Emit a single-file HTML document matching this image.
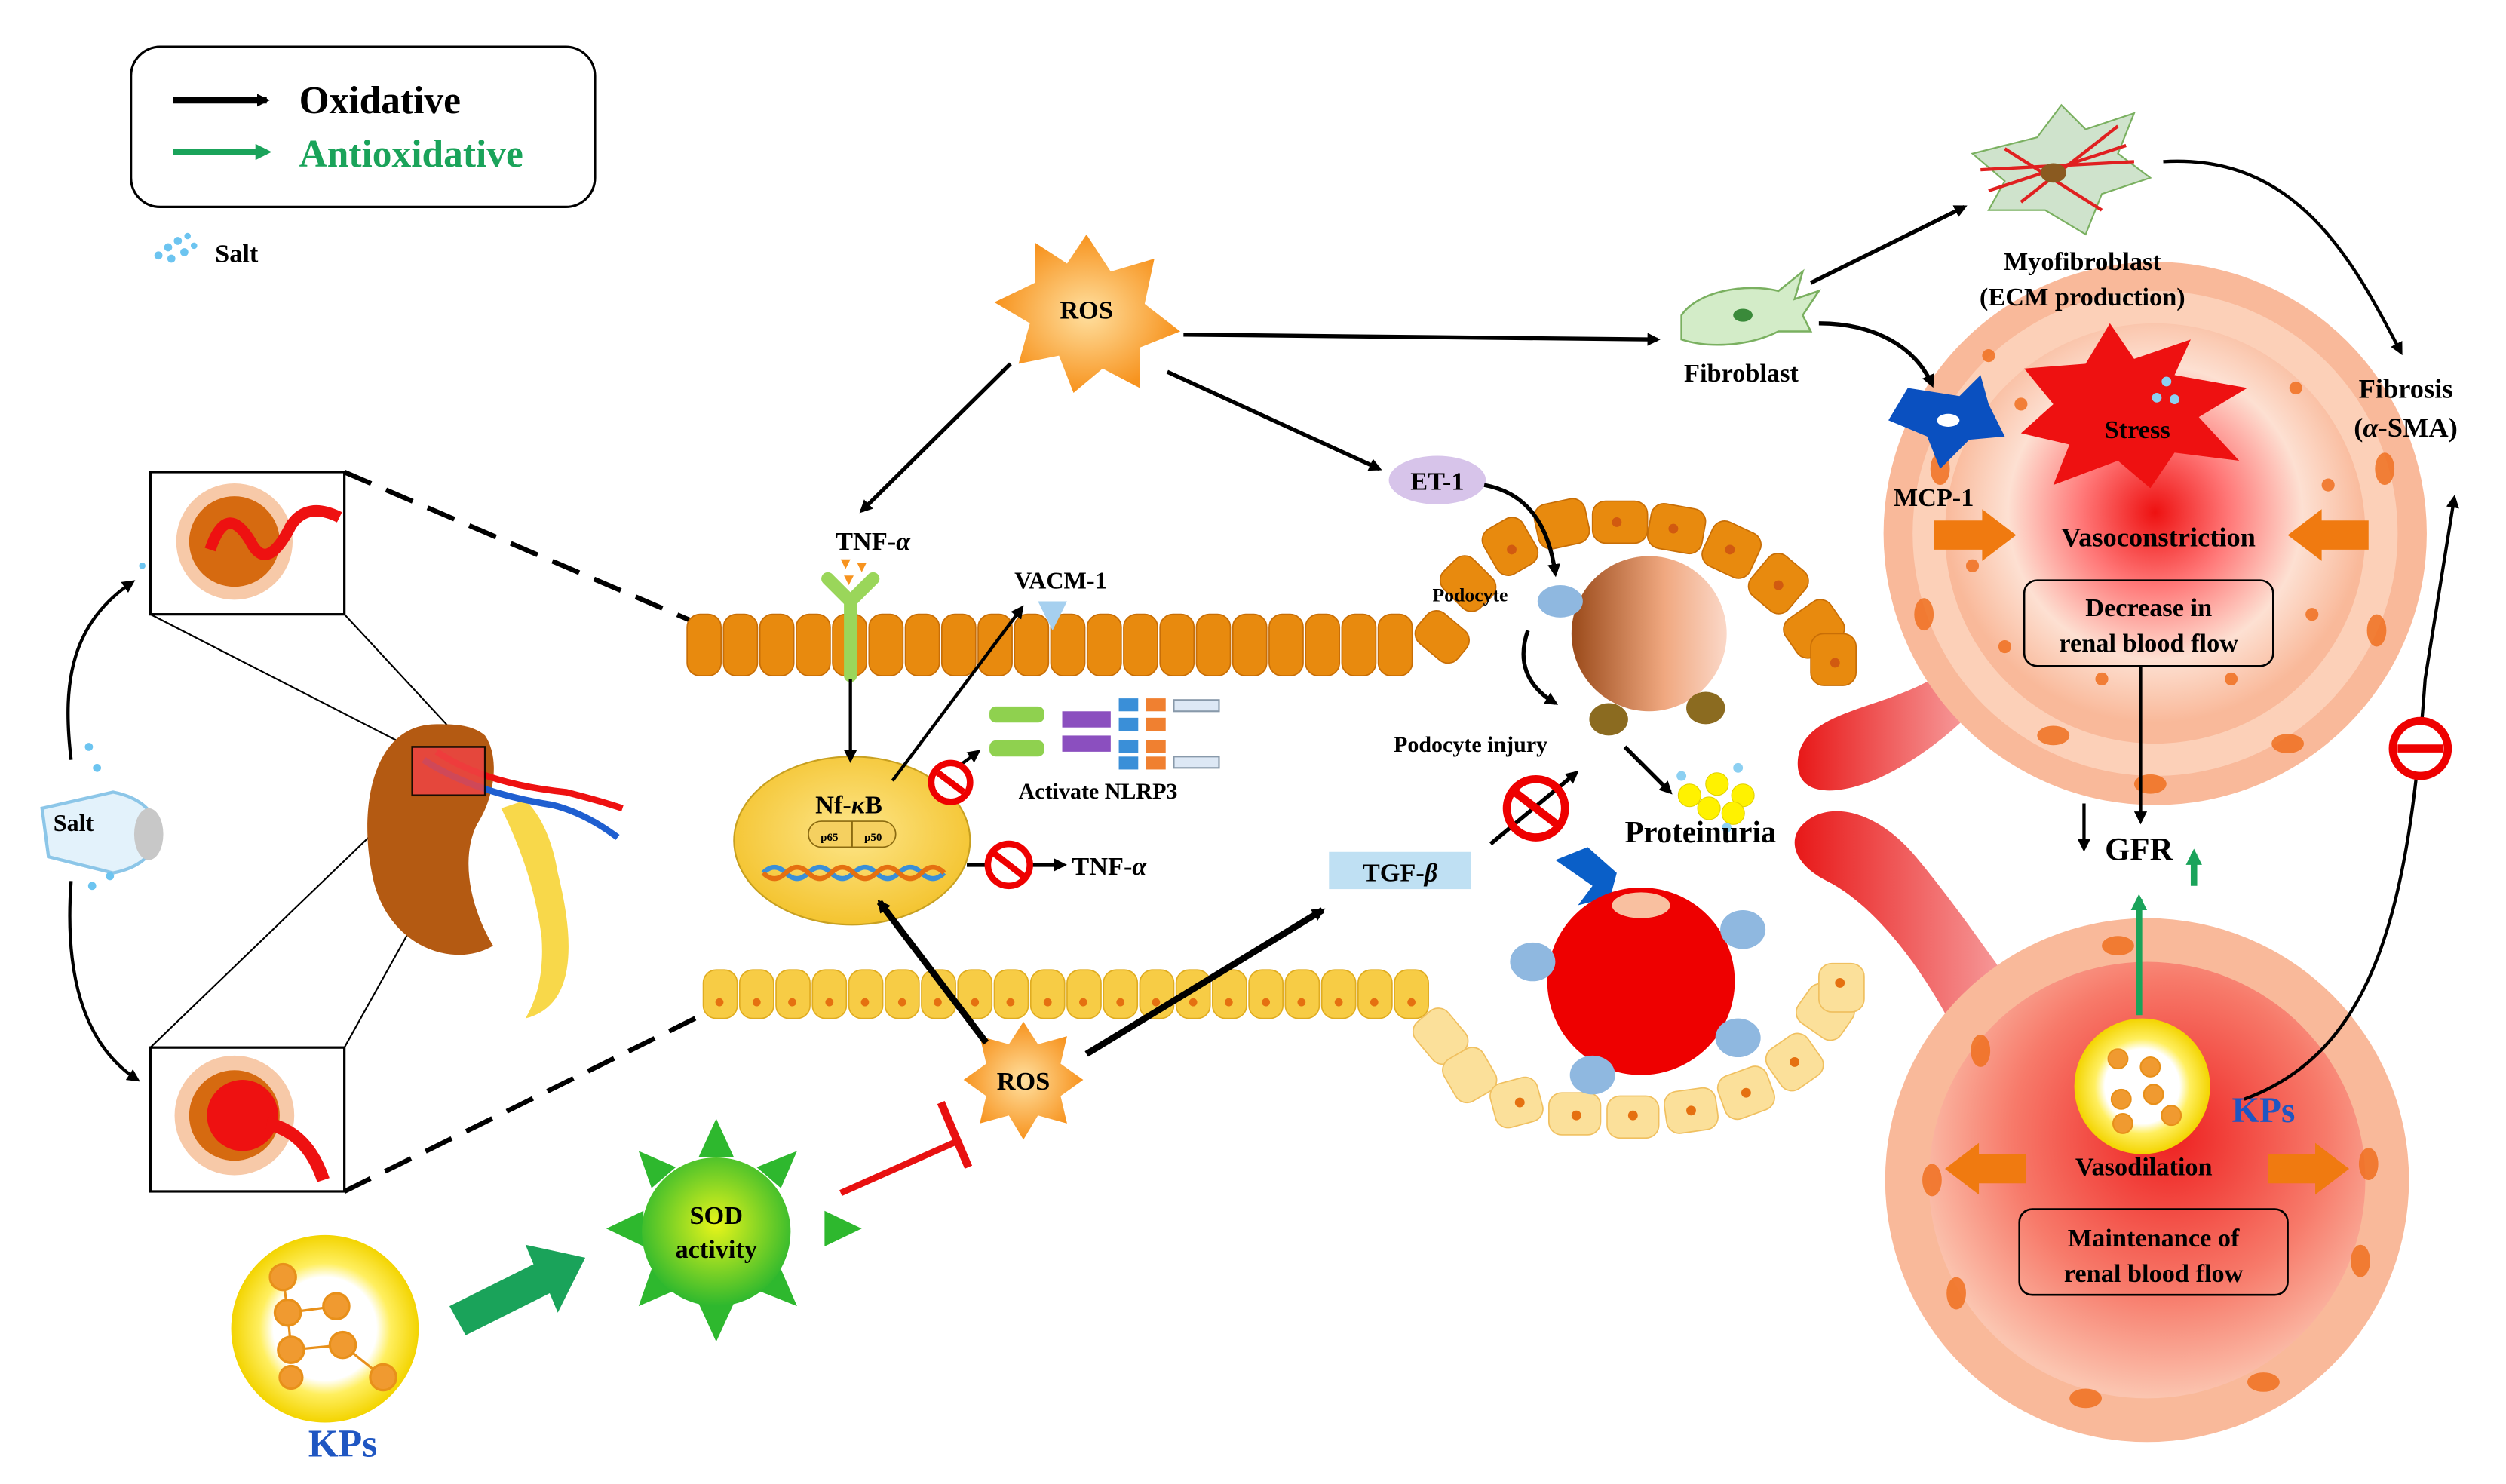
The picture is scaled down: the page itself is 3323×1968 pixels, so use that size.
<!DOCTYPE html>
<html><head><meta charset="utf-8"><style>
html,body{margin:0;padding:0;background:#fff}
svg{display:block}
text{font-family:"Liberation Serif",serif;font-weight:bold}
</style></head><body>
<svg width="3323" height="1968" viewBox="0 0 1550 918" preserveAspectRatio="none" xmlns="http://www.w3.org/2000/svg">
<defs>
<marker id="ab" markerWidth="8" markerHeight="8" refX="6" refY="4" orient="auto" markerUnits="userSpaceOnUse"><path d="M0,0 L8,4 L0,8 Z" fill="#000"/></marker>
<marker id="ag" markerWidth="10" markerHeight="10" refX="7" refY="5" orient="auto" markerUnits="userSpaceOnUse"><path d="M0,0 L10,5 L0,10 Z" fill="#1aa35a"/></marker>
<radialGradient id="ros" cx="50%" cy="50%" r="50%"><stop offset="0" stop-color="#ffe0a0"/><stop offset="1" stop-color="#f7931e"/></radialGradient>
<radialGradient id="yel" cx="50%" cy="50%" r="50%"><stop offset="0.55" stop-color="#fff"/><stop offset="0.7" stop-color="#ffef60"/><stop offset="1" stop-color="#f3d400"/></radialGradient>
<radialGradient id="sod" cx="50%" cy="45%" r="55%"><stop offset="0" stop-color="#e8f51a"/><stop offset="1" stop-color="#2eb82e"/></radialGradient>
<radialGradient id="nf" cx="50%" cy="45%" r="55%"><stop offset="0" stop-color="#fde68a"/><stop offset="1" stop-color="#f4c430"/></radialGradient>
<radialGradient id="vt" cx="50%" cy="45%" r="50%"><stop offset="0" stop-color="#ee1111"/><stop offset="0.35" stop-color="#f77"/><stop offset="0.7" stop-color="#fde0d2"/><stop offset="1" stop-color="#f9b99a"/></radialGradient>
<radialGradient id="vb" cx="55%" cy="40%" r="60%"><stop offset="0" stop-color="#ee2020"/><stop offset="0.6" stop-color="#f77a6a"/><stop offset="1" stop-color="#fbc5b0"/></radialGradient>
<linearGradient id="pod" x1="0" x2="1"><stop offset="0" stop-color="#9a4a1a"/><stop offset="0.6" stop-color="#f0a880"/><stop offset="1" stop-color="#fbd8c8"/></linearGradient>
<linearGradient id="tube" x1="0" x2="1"><stop offset="0" stop-color="#e81818"/><stop offset="1" stop-color="#f7a0a0"/></linearGradient>
</defs>

<!-- Legend -->
<rect x="81" y="29" width="287" height="99" rx="18" fill="#fff" stroke="#000" stroke-width="1.5"/>
<line x1="107" y1="62" x2="165" y2="62" stroke="#000" stroke-width="4" marker-end="url(#ab)"/>
<line x1="107" y1="94" x2="165" y2="94" stroke="#1aa35a" stroke-width="4" marker-end="url(#ag)"/>
<text x="185" y="70" font-size="24">Oxidative</text>
<text x="185" y="103" font-size="24" fill="#1aa35a">Antioxidative</text>
<g fill="#6cc4f0"><circle cx="98" cy="158" r="2.5"/><circle cx="104" cy="153" r="2.5"/><circle cx="110" cy="149" r="2.5"/><circle cx="116" cy="146" r="2"/><circle cx="106" cy="160" r="2.5"/><circle cx="114" cy="156" r="2.5"/><circle cx="120" cy="152" r="2"/></g>
<text x="133" y="162" font-size="16">Salt</text>

<!-- Left: salt and kidney -->
<path d="M44,470 C38,420 45,385 82,360" fill="none" stroke="#000" stroke-width="2" marker-end="url(#ab)"/>
<path d="M44,545 C40,600 50,645 85,668" fill="none" stroke="#000" stroke-width="2" marker-end="url(#ab)"/>
<path d="M26,500 L70,490 Q95,495 98,515 Q95,535 70,540 L30,530 Z" fill="#e3f2fb" stroke="#8cc6e8" stroke-width="2"/>
<ellipse cx="92" cy="516" rx="9" ry="16" fill="#c8c8c8"/>
<text x="33" y="514" font-size="15">Salt</text>
<g fill="#6cc4f0"><circle cx="55" cy="462" r="2.5"/><circle cx="60" cy="475" r="2.5"/><circle cx="57" cy="548" r="2.5"/><circle cx="68" cy="542" r="2.5"/><circle cx="88" cy="350" r="2"/></g>
<rect x="93" y="292" width="120" height="88" fill="#fff" stroke="#000" stroke-width="1.5"/>
<rect x="93" y="648" width="120" height="89" fill="#fff" stroke="#000" stroke-width="1.5"/>
<circle cx="145" cy="335" r="36" fill="#f7c9a8"/><circle cx="145" cy="335" r="28" fill="#d66a10"/>
<path d="M130,340 q10,-30 25,-5 q10,20 25,-10 q10,-15 30,-5" fill="none" stroke="#e11" stroke-width="7"/>
<circle cx="145" cy="690" r="37" fill="#f7c9a8"/><circle cx="145" cy="690" r="28" fill="#d66a10"/>
<circle cx="150" cy="690" r="22" fill="#e11"/>
<path d="M165,695 q25,5 35,35" fill="none" stroke="#e11" stroke-width="8"/>
<line x1="213" y1="292" x2="430" y2="385" stroke="#000" stroke-width="3" stroke-dasharray="18,10"/>
<line x1="213" y1="737" x2="440" y2="625" stroke="#000" stroke-width="3" stroke-dasharray="18,10"/>
<line x1="93" y1="380" x2="255" y2="463" stroke="#000" stroke-width="1"/>
<line x1="213" y1="380" x2="290" y2="463" stroke="#000" stroke-width="1"/>
<line x1="93" y1="648" x2="255" y2="492" stroke="#000" stroke-width="1"/>
<line x1="213" y1="648" x2="300" y2="492" stroke="#000" stroke-width="1"/>
<path d="M310,500 q20,40 25,80 q2,30 -10,50 q40,-10 20,-90 q-5,-30 -20,-45 Z" fill="#f8d84a"/>
<path d="M270,448 C230,448 222,500 230,540 C238,585 280,600 305,585 C290,560 285,530 295,510 C305,495 310,470 300,455 C292,448 280,448 270,448 Z" fill="#b45a12"/>
<path d="M262,470 q30,20 80,28 q20,5 40,20" fill="none" stroke="#1f5fd0" stroke-width="4"/>
<path d="M270,465 q30,20 80,25 q20,5 35,10" fill="none" stroke="#e11" stroke-width="4"/>
<rect x="255" y="462" width="45" height="30" fill="#e44" stroke="#000" stroke-width="1.2" opacity="0.85"/>

<!-- Top ROS -->
<polygon points="672,145 687,168 714,160 708,188 730,205 705,215 705,240 682,228 664,243 655,220 630,225 637,200 615,187 640,175 640,150 660,163" fill="url(#ros)"/>
<text x="672" y="197" font-size="16" text-anchor="middle">ROS</text>
<line x1="732" y1="207" x2="1025" y2="210" stroke="#000" stroke-width="2.5" marker-end="url(#ab)"/>
<line x1="625" y1="225" x2="533" y2="316" stroke="#000" stroke-width="2.5" marker-end="url(#ab)"/>
<line x1="722" y1="230" x2="853" y2="290" stroke="#000" stroke-width="2.5" marker-end="url(#ab)"/>
<ellipse cx="889" cy="297" rx="30" ry="15" fill="#d7c4ea"/>
<text x="889" y="303" font-size="16" text-anchor="middle">ET-1</text>
<text x="540" y="340" font-size="16" text-anchor="middle">TNF-<tspan font-style="italic">α</tspan></text>
<g fill="#f7931e"><polygon points="520,346 526,346 523,352"/><polygon points="530,348 536,348 533,354"/><polygon points="522,356 528,356 525,362"/></g>

<!-- top membrane -->
<g fill="#e88a0e" stroke="#c86e06" stroke-width="0.8">
<rect x="425" y="380" width="21" height="38" rx="8"/><rect x="447.5" y="380" width="21" height="38" rx="8"/><rect x="470" y="380" width="21" height="38" rx="8"/><rect x="492.5" y="380" width="21" height="38" rx="8"/><rect x="515" y="380" width="21" height="38" rx="8"/><rect x="537.5" y="380" width="21" height="38" rx="8"/><rect x="560" y="380" width="21" height="38" rx="8"/><rect x="582.5" y="380" width="21" height="38" rx="8"/><rect x="605" y="380" width="21" height="38" rx="8"/><rect x="627.5" y="380" width="21" height="38" rx="8"/><rect x="650" y="380" width="21" height="38" rx="8"/><rect x="672.5" y="380" width="21" height="38" rx="8"/><rect x="695" y="380" width="21" height="38" rx="8"/><rect x="717.5" y="380" width="21" height="38" rx="8"/><rect x="740" y="380" width="21" height="38" rx="8"/><rect x="762.5" y="380" width="21" height="38" rx="8"/><rect x="785" y="380" width="21" height="38" rx="8"/><rect x="807.5" y="380" width="21" height="38" rx="8"/><rect x="830" y="380" width="21" height="38" rx="8"/><rect x="852.5" y="380" width="21" height="38" rx="8"/>
</g>
<path d="M526,418 L526,372 L512,358 M526,372 L540,358" fill="none" stroke="#9ad65a" stroke-width="8" stroke-linecap="round"/>
<polygon points="642,372 660,372 651,390" fill="#a6d0ef"/>
<text x="656" y="364" font-size="15" text-anchor="middle">VACM-1</text>

<!-- curved membrane around podocyte top -->
<g fill="#e88a0e" stroke="#c86e06" stroke-width="0.8">
<rect x="880" y="378" width="24" height="32" rx="8" transform="rotate(-50 892 394)"/>
<rect x="895" y="345" width="26" height="32" rx="8" transform="rotate(-45 908 361)"/>
<rect x="920" y="322" width="28" height="32" rx="8" transform="rotate(-30 934 338)"/>
<rect x="950" y="310" width="32" height="28" rx="8" transform="rotate(-12 966 324)"/>
<rect x="985" y="310" width="34" height="26" rx="8"/>
<rect x="1020" y="313" width="34" height="28" rx="8" transform="rotate(10 1037 327)"/>
<rect x="1055" y="325" width="32" height="30" rx="8" transform="rotate(25 1071 340)"/>
<rect x="1085" y="345" width="30" height="32" rx="8" transform="rotate(40 1100 361)"/>
<rect x="1108" y="372" width="28" height="34" rx="8" transform="rotate(55 1122 389)"/>
<rect x="1120" y="392" width="28" height="32" rx="8"/>
</g>
<g fill="#d15a10"><circle cx="1000" cy="323" r="3"/><circle cx="1035" cy="327" r="3"/><circle cx="1070" cy="340" r="3"/><circle cx="1100" cy="362" r="3"/><circle cx="1135" cy="410" r="3"/><circle cx="935" cy="340" r="3"/></g>

<!-- podocyte top -->
<circle cx="1020" cy="392" r="48" fill="url(#pod)"/>
<g fill="#8fb8e0"><ellipse cx="965" cy="372" rx="14" ry="10"/></g>
<g fill="#8b6b20"><ellipse cx="995" cy="445" rx="12" ry="10"/><ellipse cx="1055" cy="438" rx="12" ry="10"/></g>
<text x="886" y="372" font-size="12">Podocyte</text>
<path d="M945,390 C938,410 945,425 962,435" fill="none" stroke="#000" stroke-width="2.5" marker-end="url(#ab)"/>
<line x1="1005" y1="462" x2="1033" y2="490" stroke="#000" stroke-width="2.5" marker-end="url(#ab)"/>
<path d="M918,300 C945,305 958,325 962,355" fill="none" stroke="#000" stroke-width="2.5" marker-end="url(#ab)"/>
<text x="862" y="465" font-size="14">Podocyte injury</text>
<g fill="#fff200" stroke="#e0d000" stroke-width="0.5"><circle cx="1045" cy="492" r="7"/><circle cx="1062" cy="485" r="7"/><circle cx="1078" cy="492" r="7"/><circle cx="1045" cy="507" r="0"/><circle cx="1057" cy="500" r="7"/><circle cx="1072" cy="503" r="7"/></g>
<g fill="#8cd0f2"><circle cx="1040" cy="480" r="3"/><circle cx="1075" cy="475" r="3"/><circle cx="1068" cy="512" r="3"/></g>
<text x="1005" y="521" font-size="19">Proteinuria</text>

<!-- TGF -->
<rect x="822" y="527" width="88" height="23" fill="#bfe0f3"/>
<text x="866" y="545" font-size="16" text-anchor="middle">TGF-<tspan font-style="italic">β</tspan></text>
<line x1="922" y1="522" x2="975" y2="478" stroke="#000" stroke-width="2.5" marker-end="url(#ab)"/>
<circle cx="950" cy="500" r="18" fill="none" stroke="#e00" stroke-width="5"/><line x1="937" y1="490" x2="963" y2="510" stroke="#e00" stroke-width="5"/>
<polygon points="962,532 982,524 1000,540 996,555 976,560 985,548" fill="#0a5fc8"/>

<!-- Nf-kB -->
<ellipse cx="527" cy="520" rx="73" ry="52" fill="url(#nf)" stroke="#c8a020" stroke-width="1"/>
<text x="525" y="503" font-size="16" text-anchor="middle">Nf-<tspan font-style="italic">κ</tspan>B</text>
<rect x="500" y="508" width="54" height="16" rx="8" fill="#f5d060" stroke="#8a6a10" stroke-width="0.8"/>
<line x1="527" y1="508" x2="527" y2="524" stroke="#8a6a10"/>
<text x="513" y="520" font-size="7" text-anchor="middle">p65</text><text x="540" y="520" font-size="7" text-anchor="middle">p50</text>
<path d="M472,540 q7,-7 14,0 q7,7 14,0 q7,-7 14,0 q7,7 14,0 q7,-7 14,0 q7,7 14,0 q7,-7 14,0 q7,7 14,0" fill="none" stroke="#3a8fd8" stroke-width="3"/>
<path d="M472,540 q7,7 14,0 q7,-7 14,0 q7,7 14,0 q7,-7 14,0 q7,7 14,0 q7,-7 14,0 q7,7 14,0 q7,-7 14,0" fill="none" stroke="#e57010" stroke-width="3"/>
<line x1="526" y1="420" x2="526" y2="470" stroke="#000" stroke-width="2" marker-end="url(#ab)"/>
<line x1="552" y1="483" x2="632" y2="376" stroke="#000" stroke-width="2" marker-end="url(#ab)"/>
<line x1="578" y1="485" x2="605" y2="465" stroke="#000" stroke-width="2" marker-end="url(#ab)"/>
<circle cx="588" cy="484" r="12" fill="#fff" stroke="#e00" stroke-width="4"/><line x1="580" y1="478" x2="596" y2="490" stroke="#e00" stroke-width="4"/>
<line x1="598" y1="535" x2="658" y2="535" stroke="#000" stroke-width="2.5" marker-end="url(#ab)"/>
<circle cx="624" cy="535" r="13" fill="#fff" stroke="#e00" stroke-width="4"/><line x1="615" y1="528" x2="633" y2="542" stroke="#e00" stroke-width="4"/>
<text x="663" y="541" font-size="16">TNF-<tspan font-style="italic">α</tspan></text>
<!-- NLRP3 -->
<g fill="#8fd14f"><rect x="612" y="437" width="34" height="10" rx="4"/><rect x="612" y="458" width="34" height="10" rx="4"/></g>
<g fill="#8b4fbf"><rect x="657" y="440" width="30" height="10"/><rect x="657" y="455" width="30" height="10"/></g>
<g fill="#3a8fd8"><rect x="692" y="432" width="12" height="8"/><rect x="692" y="444" width="12" height="8"/><rect x="692" y="458" width="12" height="8"/><rect x="692" y="468" width="12" height="8"/></g>
<g fill="#f08030"><rect x="709" y="432" width="12" height="8"/><rect x="709" y="444" width="12" height="8"/><rect x="709" y="458" width="12" height="8"/><rect x="709" y="468" width="12" height="8"/></g>
<g fill="#dde8f5" stroke="#89a"><rect x="726" y="433" width="28" height="7"/><rect x="726" y="468" width="28" height="7"/></g>
<text x="630" y="494" font-size="14">Activate NLRP3</text>

<!-- bottom membrane -->
<g fill="#f7cc45" stroke="#e0ac20" stroke-width="0.8">
<rect x="435" y="600" width="21" height="30" rx="8"/><rect x="457.5" y="600" width="21" height="30" rx="8"/><rect x="480" y="600" width="21" height="30" rx="8"/><rect x="502.5" y="600" width="21" height="30" rx="8"/><rect x="525" y="600" width="21" height="30" rx="8"/><rect x="547.5" y="600" width="21" height="30" rx="8"/><rect x="570" y="600" width="21" height="30" rx="8"/><rect x="592.5" y="600" width="21" height="30" rx="8"/><rect x="615" y="600" width="21" height="30" rx="8"/><rect x="637.5" y="600" width="21" height="30" rx="8"/><rect x="660" y="600" width="21" height="30" rx="8"/><rect x="682.5" y="600" width="21" height="30" rx="8"/><rect x="705" y="600" width="21" height="30" rx="8"/><rect x="727.5" y="600" width="21" height="30" rx="8"/><rect x="750" y="600" width="21" height="30" rx="8"/><rect x="772.5" y="600" width="21" height="30" rx="8"/><rect x="795" y="600" width="21" height="30" rx="8"/><rect x="817.5" y="600" width="21" height="30" rx="8"/><rect x="840" y="600" width="21" height="30" rx="8"/><rect x="862.5" y="600" width="21" height="30" rx="8"/>
</g>
<g fill="#e57010"><circle cx="445" cy="620" r="2.5"/><circle cx="468" cy="620" r="2.5"/><circle cx="490" cy="620" r="2.5"/><circle cx="513" cy="620" r="2.5"/><circle cx="535" cy="620" r="2.5"/><circle cx="558" cy="620" r="2.5"/><circle cx="580" cy="620" r="2.5"/><circle cx="603" cy="620" r="2.5"/><circle cx="625" cy="620" r="2.5"/><circle cx="648" cy="620" r="2.5"/><circle cx="670" cy="620" r="2.5"/><circle cx="693" cy="620" r="2.5"/><circle cx="715" cy="620" r="2.5"/><circle cx="738" cy="620" r="2.5"/><circle cx="760" cy="620" r="2.5"/><circle cx="783" cy="620" r="2.5"/><circle cx="805" cy="620" r="2.5"/><circle cx="828" cy="620" r="2.5"/><circle cx="850" cy="620" r="2.5"/><circle cx="873" cy="620" r="2.5"/></g>
<!-- curved bottom cells -->
<g fill="#fbe09a" stroke="#f0c060" stroke-width="0.8">
<rect x="878" y="625" width="26" height="32" rx="8" transform="rotate(-40 891 641)"/>
<rect x="895" y="650" width="28" height="30" rx="8" transform="rotate(-30 909 665)"/>
<rect x="923" y="668" width="30" height="28" rx="8" transform="rotate(-15 938 682)"/>
<rect x="958" y="676" width="32" height="26" rx="8"/>
<rect x="994" y="678" width="32" height="26" rx="8"/>
<rect x="1030" y="674" width="32" height="26" rx="8" transform="rotate(-8 1046 687)"/>
<rect x="1064" y="662" width="32" height="28" rx="8" transform="rotate(-20 1080 676)"/>
<rect x="1095" y="642" width="30" height="30" rx="8" transform="rotate(-35 1110 657)"/>
<rect x="1115" y="610" width="28" height="32" rx="8" transform="rotate(-55 1129 626)"/>
<rect x="1125" y="596" width="28" height="30" rx="8"/>
</g>
<g fill="#e57010"><circle cx="940" cy="682" r="3"/><circle cx="975" cy="690" r="3"/><circle cx="1010" cy="690" r="3"/><circle cx="1046" cy="687" r="3"/><circle cx="1080" cy="676" r="3"/><circle cx="1110" cy="657" r="3"/><circle cx="1138" cy="608" r="3"/></g>
<!-- bottom podocyte -->
<circle cx="1015" cy="607" r="58" fill="#e00"/>
<ellipse cx="1015" cy="560" rx="18" ry="8" fill="#f9c0a0"/>
<g fill="#8fb8e0"><ellipse cx="948" cy="595" rx="14" ry="12"/><ellipse cx="1078" cy="575" rx="14" ry="12"/><ellipse cx="1075" cy="642" rx="14" ry="12"/><ellipse cx="985" cy="665" rx="14" ry="12"/></g>

<!-- bottom ROS -->
<polygon points="633,632 642,646 660,641 656,658 670,668 656,678 660,695 642,690 633,705 624,690 606,695 610,678 596,668 610,658 606,641 624,646" fill="url(#ros)"/>
<text x="633" y="674" font-size="16" text-anchor="middle">ROS</text>
<line x1="610" y1="645" x2="544" y2="558" stroke="#000" stroke-width="4" marker-end="url(#ab)"/>
<line x1="672" y1="652" x2="818" y2="563" stroke="#000" stroke-width="4" marker-end="url(#ab)"/>
<line x1="520" y1="738" x2="592" y2="706" stroke="#e81010" stroke-width="4"/>
<line x1="582" y1="682" x2="599" y2="722" stroke="#e81010" stroke-width="5"/>

<!-- SOD -->
<g fill="#2eb82e">
<polygon points="443,692 432,716 454,716"/><polygon points="443,830 432,806 454,806"/>
<polygon points="375,760 398,749 398,771"/><polygon points="533,760 510,749 510,771"/>
<polygon points="395,712 403,735 418,722"/><polygon points="493,712 483,735 468,722"/>
<polygon points="395,808 403,785 418,798"/><polygon points="493,808 483,785 468,798"/>
</g>
<circle cx="443" cy="762" r="46" fill="url(#sod)"/>
<text x="443" y="757" font-size="16" text-anchor="middle">SOD</text>
<text x="443" y="778" font-size="16" text-anchor="middle">activity</text>
<polygon points="278,808 330,782 325,770 362,778 345,812 340,800 288,826" fill="#1aa35a"/>

<!-- KPs bottom left -->
<circle cx="201" cy="822" r="58" fill="url(#yel)"/>
<g stroke="#e8901a" stroke-width="1.5" fill="#f09a30">
<line x1="175" y1="790" x2="178" y2="812"/><line x1="178" y1="812" x2="208" y2="808"/><line x1="178" y1="812" x2="180" y2="835"/><line x1="180" y1="835" x2="212" y2="832"/><line x1="212" y1="832" x2="237" y2="852"/>
<circle cx="175" cy="790" r="8"/><circle cx="178" cy="812" r="8"/><circle cx="208" cy="808" r="8"/><circle cx="180" cy="835" r="8"/><circle cx="212" cy="832" r="8"/><circle cx="237" cy="852" r="8"/><circle cx="180" cy="852" r="7"/>
</g>
<text x="212" y="901" font-size="24" fill="#1f56c2" text-anchor="middle">KPs</text>

<!-- red tubes -->
<path d="M1195,420 C1160,440 1115,440 1112,470 C1110,495 1140,492 1165,480 C1190,468 1210,450 1220,440 Z" fill="url(#tube)"/>
<path d="M1115,510 C1130,495 1160,500 1185,530 C1210,560 1230,590 1245,610 L1210,640 C1190,600 1160,560 1130,545 C1110,535 1105,520 1115,510 Z" fill="url(#tube)"/>

<!-- top vessel -->
<circle cx="1333" cy="330" r="168" fill="#f9b99a"/>
<circle cx="1333" cy="330" r="150" fill="#fcd0b8"/>
<circle cx="1333" cy="330" r="130" fill="url(#vt)"/>
<g fill="#f07020" opacity="0.85"><ellipse cx="1190" cy="380" rx="6" ry="10"/><ellipse cx="1270" cy="455" rx="10" ry="6"/><ellipse cx="1330" cy="485" rx="10" ry="6"/><ellipse cx="1415" cy="460" rx="10" ry="6"/><ellipse cx="1470" cy="390" rx="6" ry="10"/><ellipse cx="1475" cy="290" rx="6" ry="10"/><ellipse cx="1200" cy="290" rx="6" ry="10"/><circle cx="1230" cy="220" r="4"/><circle cx="1250" cy="250" r="4"/><circle cx="1420" cy="240" r="4"/><circle cx="1440" cy="300" r="4"/><circle cx="1430" cy="380" r="4"/><circle cx="1240" cy="400" r="4"/><circle cx="1300" cy="420" r="4"/><circle cx="1380" cy="420" r="4"/><circle cx="1220" cy="350" r="4"/></g>
<polygon points="1252,228 1290,225 1305,200 1320,222 1355,210 1345,232 1390,240 1360,258 1385,285 1345,280 1330,302 1310,285 1270,300 1280,275 1250,268 1270,250" fill="#ee1111"/>
<text x="1322" y="271" font-size="16" text-anchor="middle">Stress</text>
<g fill="#8cd0f2"><circle cx="1340" cy="236" r="3"/><circle cx="1334" cy="246" r="3"/><circle cx="1345" cy="247" r="3"/></g>
<path d="M1180,240 L1212,245 L1225,232 L1230,250 L1240,270 L1218,272 L1200,290 L1192,270 L1168,260 Z" fill="#0a50c0"/>
<ellipse cx="1205" cy="260" rx="7" ry="4" fill="#fff"/>
<text x="1196" y="313" font-size="16" text-anchor="middle">MCP-1</text>
<polygon points="1196,322 1226,322 1226,315 1247,331 1226,347 1226,340 1196,340" fill="#f07a10"/>
<polygon points="1465,322 1436,322 1436,315 1415,331 1436,347 1436,340 1465,340" fill="#f07a10"/>
<text x="1335" y="338" font-size="17" text-anchor="middle">Vasoconstriction</text>
<rect x="1252" y="359" width="154" height="53" rx="8" fill="none" stroke="#000" stroke-width="1.2"/>
<text x="1329" y="381" font-size="16" text-anchor="middle">Decrease in</text>
<text x="1329" y="403" font-size="16" text-anchor="middle">renal blood flow</text>
<line x1="1324" y1="412" x2="1324" y2="508" stroke="#000" stroke-width="2" marker-end="url(#ab)"/>
<line x1="1289" y1="497" x2="1289" y2="525" stroke="#000" stroke-width="2" marker-end="url(#ab)"/>
<text x="1323" y="532" font-size="20" text-anchor="middle">GFR</text>
<line x1="1357" y1="548" x2="1357" y2="528" stroke="#1aa35a" stroke-width="4" marker-end="url(#ag)"/>

<!-- bottom vessel -->
<circle cx="1328" cy="730" r="162" fill="#f9b99a"/>
<circle cx="1328" cy="730" r="135" fill="url(#vb)"/>
<g fill="#f07020" opacity="0.85"><ellipse cx="1225" cy="650" rx="6" ry="10"/><ellipse cx="1195" cy="730" rx="6" ry="10"/><ellipse cx="1210" cy="800" rx="6" ry="10"/><ellipse cx="1290" cy="865" rx="10" ry="6"/><ellipse cx="1400" cy="855" rx="10" ry="6"/><ellipse cx="1460" cy="780" rx="6" ry="10"/><ellipse cx="1465" cy="720" rx="6" ry="10"/><ellipse cx="1310" cy="585" rx="10" ry="6"/></g>
<line x1="1323" y1="628" x2="1323" y2="556" stroke="#1aa35a" stroke-width="4" marker-end="url(#ag)"/>
<circle cx="1325" cy="672" r="42" fill="url(#yel)"/>
<g fill="#f09a30" stroke="#e8901a"><circle cx="1310" cy="655" r="6"/><circle cx="1330" cy="660" r="6"/><circle cx="1312" cy="680" r="6"/><circle cx="1332" cy="677" r="6"/><circle cx="1343" cy="690" r="6"/><circle cx="1313" cy="695" r="6"/></g>
<text x="1400" y="694" font-size="22" fill="#1f56c2" text-anchor="middle">KPs</text>
<text x="1326" y="727" font-size="16" text-anchor="middle">Vasodilation</text>
<polygon points="1253,714 1224,714 1224,707 1203,723 1224,739 1224,732 1253,732" fill="#f07a10"/>
<polygon points="1403,714 1432,714 1432,707 1453,723 1432,739 1432,732 1403,732" fill="#f07a10"/>
<rect x="1249" y="748" width="166" height="53" rx="8" fill="none" stroke="#000" stroke-width="1.2"/>
<text x="1332" y="771" font-size="16" text-anchor="middle">Maintenance of</text>
<text x="1332" y="793" font-size="16" text-anchor="middle">renal blood flow</text>
<path d="M1388,680 C1470,650 1490,560 1500,420 L1518,308" fill="none" stroke="#000" stroke-width="2" marker-end="url(#ab)"/>
<circle cx="1497" cy="463" r="17" fill="#fff" stroke="#e00" stroke-width="5"/><line x1="1483" y1="463" x2="1511" y2="463" stroke="#e00" stroke-width="5"/>

<!-- fibroblasts -->
<path d="M1040,195 C1050,180 1080,175 1100,180 L1115,168 L1110,185 L1125,180 L1115,195 L1120,205 L1100,205 C1080,215 1055,215 1040,210 Z" fill="#d3ecc8" stroke="#7ab060" stroke-width="1.2"/>
<ellipse cx="1078" cy="195" rx="6" ry="4" fill="#3a8a3a"/>
<text x="1077" y="236" font-size="16" text-anchor="middle">Fibroblast</text>
<line x1="1120" y1="175" x2="1215" y2="128" stroke="#000" stroke-width="2.5" marker-end="url(#ab)"/>
<path d="M1125,200 C1160,200 1185,215 1195,238" fill="none" stroke="#000" stroke-width="2.5" marker-end="url(#ab)"/>
<path d="M1220,95 L1260,85 L1275,65 L1290,80 L1320,70 L1310,95 L1330,110 L1300,120 L1290,145 L1265,130 L1230,130 L1240,112 Z" fill="#cfe3cc" stroke="#7ab060"/>
<path d="M1225,105 L1320,100 M1230,118 L1315,90 M1240,92 L1300,130 M1250,125 L1310,78" stroke="#e02020" stroke-width="2"/>
<ellipse cx="1270" cy="107" rx="8" ry="6" fill="#8a5a20"/>
<text x="1288" y="167" font-size="16" text-anchor="middle">Myofibroblast</text>
<text x="1288" y="189" font-size="16" text-anchor="middle">(ECM production)</text>
<path d="M1338,100 C1420,95 1455,160 1485,218" fill="none" stroke="#000" stroke-width="2" marker-end="url(#ab)"/>
<text x="1488" y="246" font-size="17" text-anchor="middle">Fibrosis</text>
<text x="1488" y="270" font-size="17" text-anchor="middle">(<tspan font-style="italic">α</tspan>-SMA)</text>
</svg>
</body></html>
